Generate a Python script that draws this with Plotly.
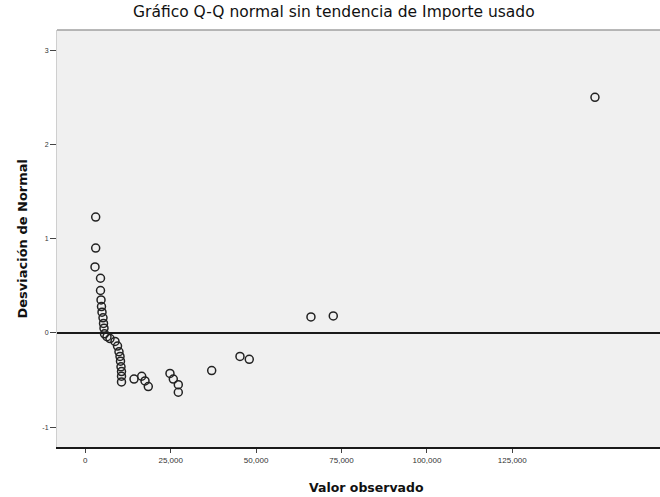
import plotly.graph_objects as go

# Importe usado (observed value) and detrended normal deviation for each case
valor_observado = [
    3040, 3040, 2840, 4450, 4450, 4600, 4740, 4890, 5180, 5330, 5470, 5620,
    6350, 7230, 8690, 9430, 9860, 10160, 10300, 10450, 10600, 10600, 10600,
    14260, 16510, 17480, 18440, 24790, 25760, 27220, 27220, 37000, 45280,
    48000, 66060, 72590, 149200,
]
desviacion = [
    1.23, 0.90, 0.70, 0.58, 0.45, 0.35, 0.28, 0.22, 0.16, 0.10, 0.05, -0.01,
    -0.04, -0.06, -0.09, -0.14, -0.20, -0.25, -0.30, -0.36, -0.41, -0.46, -0.52,
    -0.49, -0.46, -0.51, -0.57, -0.43, -0.49, -0.55, -0.63, -0.40, -0.25,
    -0.28, 0.17, 0.18, 2.50,
]

x_tickvals = [0, 25000, 50000, 75000, 100000, 125000]
x_ticktext = ["0", "25,000", "50,000", "75,000", "100,000", "125,000"]
y_tickvals = [-1, 0, 1, 2, 3]
y_ticktext = ["-1", "0", "1", "2", "3"]

fig = go.Figure()
fig.add_trace(go.Scatter(
    x=valor_observado,
    y=desviacion,
    mode="markers",
    marker=dict(symbol="circle-open", size=8, color="#222",
                line=dict(width=1.5, color="#222")),
    hoverinfo="x+y",
    showlegend=False,
))

fig.update_layout(
    width=660,
    height=497,
    margin=dict(l=57, r=0, t=30, b=50),
    paper_bgcolor="white",
    plot_bgcolor="#f0f0f0",
    font=dict(family="Liberation Sans, Arial, sans-serif", color="#222"),
    xaxis=dict(
        range=[-8285, 168237],
        tickvals=x_tickvals,
        ticktext=x_ticktext,
        tickfont=dict(size=8, color="#333"),
        ticks="outside",
        ticklen=4,
        tickcolor="#444",
        showgrid=False,
        zeroline=False,
        showline=True,
        linecolor="#1a1a1a",
        linewidth=2,
    ),
    yaxis=dict(
        range=[-1.211, 3.215],
        tickvals=y_tickvals,
        ticktext=y_ticktext,
        tickfont=dict(size=7, color="#333"),
        ticks="outside",
        ticklen=6,
        tickcolor="#444",
        showgrid=False,
        zeroline=True,
        zerolinecolor="#1a1a1a",
        zerolinewidth=2,
        showline=True,
        linecolor="#cfcfcf",
        linewidth=1,
    ),
    shapes=[
        dict(type="line", xref="paper", yref="paper", x0=0, x1=1, y0=1, y1=1,
             line=dict(color="#a0a0a0", width=1.5)),
    ],
    annotations=[
        dict(text="Gráfico Q-Q normal sin tendencia de Importe usado",
             xref="paper", yref="paper", x=0.459, y=1.0, yshift=18,
             xanchor="center", yanchor="middle", showarrow=False,
             font=dict(family="DejaVu Sans, sans-serif", size=15.5, color="#111")),
        dict(text="<b>Valor observado</b>",
             xref="paper", yref="paper", x=0.514, y=-0.098,
             xanchor="center", yanchor="middle", showarrow=False,
             font=dict(family="DejaVu Sans, sans-serif", size=12.5, color="#111")),
        dict(text="<b>Desviación de Normal</b>",
             xref="paper", yref="paper", x=-0.058, y=0.50, textangle=-90,
             xanchor="center", yanchor="middle", showarrow=False,
             font=dict(family="DejaVu Sans, sans-serif", size=13, color="#111")),
    ],
)

fig.write_html("out.html")
